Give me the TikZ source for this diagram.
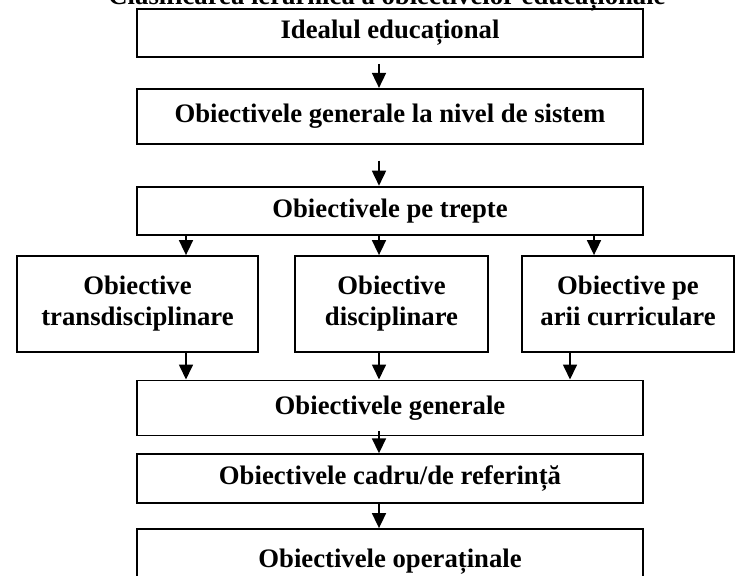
\documentclass[tikz,border=0pt]{standalone}
\usepackage{fontspec}
\setmainfont{Liberation Serif}
\usetikzlibrary{arrows.meta,positioning}
\tikzset{
  levelbox/.style={draw, line width=1.8pt, align=center, inner sep=0pt,
    font=\bfseries\fontsize{26.7}{31}\selectfont, minimum width=506pt},
  levelarrow/.style={-{Triangle[length=15pt,width=14pt]}, line width=1.7pt}
}
\begin{document}
\begin{tikzpicture}[x=1pt, y=-1pt]
    \useasboundingbox (0,0) rectangle (735,575);
    \node[anchor=base, font=\bfseries\fontsize{26.7}{31}\selectfont] (title) at (387,5)
      {Clasificarea ierarhică a obiectivelor educaționale};
    \node[levelbox, minimum height=48pt] (ideal) at (390,33) {Idealul educațional};
    \node[levelbox, minimum height=55pt, below=30pt of ideal] (sistem) {Obiectivele generale la nivel de sistem};
    \node[levelbox, minimum height=48pt, below=41pt of sistem] (trepte) {Obiectivele pe trepte};
    \node[levelbox, minimum width=241pt, minimum height=96pt] (transd) at (137.5,304) {Obiective\\transdisciplinare};
    \node[levelbox, minimum width=193pt, minimum height=96pt] (discip) at (391.5,304) {Obiective\\disciplinare};
    \node[levelbox, minimum width=212pt, minimum height=96pt] (arii) at (628,304) {Obiective pe\\arii curriculare\vphantom{p}};
    \node[levelbox, minimum height=55pt, below=144pt of trepte] (general) {Obiectivele generale};
    \node[levelbox, minimum height=49pt, below=17pt of general] (cadru) {Obiectivele cadru/de referință};
    \node[levelbox, minimum height=66pt, below=24pt of cadru] (operat) {Obiectivele operaținale};
    \draw[levelarrow] ([xshift=-11pt, yshift=-6pt]ideal.south) -- ([xshift=-11pt]sistem.north);
    \draw[levelarrow] ([xshift=-11pt, yshift=-16pt]sistem.south) -- ([xshift=-11pt]trepte.north);
    \foreach \dx/\tgt in {-204/transd, -11/discip, 204/arii}
      \draw[levelarrow] ([xshift=\dx pt]trepte.south) -- ([xshift=\dx pt]trepte.south |- \tgt.north);
    \foreach \dx/\src in {-204/transd, -11/discip, 180/arii}
      \draw[levelarrow] ([xshift=\dx pt]general.north |- \src.south) -- ([xshift=\dx pt]general.north);
    \draw[levelarrow] ([xshift=-11pt, yshift=5pt]general.south) -- ([xshift=-11pt]cadru.north);
    \draw[levelarrow] ([xshift=-11pt]cadru.south) -- ([xshift=-11pt]operat.north);
  \end{tikzpicture}
\end{document}
